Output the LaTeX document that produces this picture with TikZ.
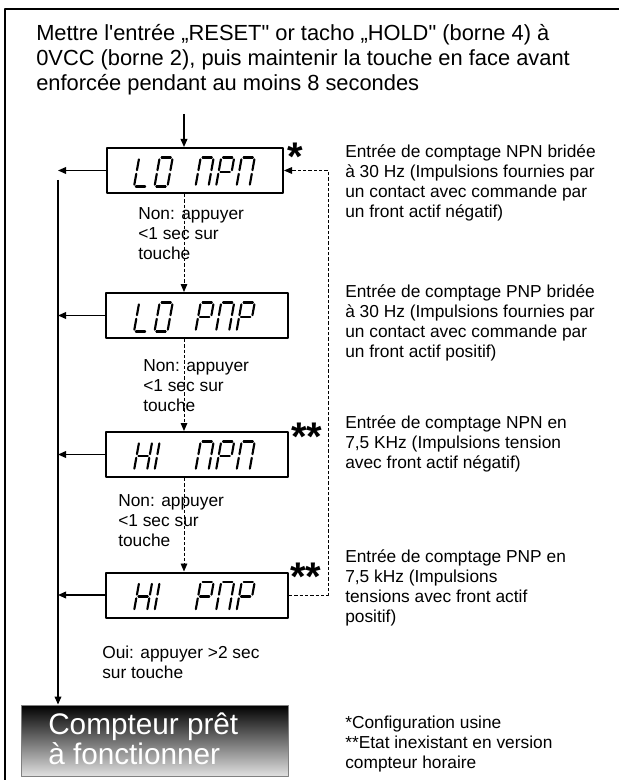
\documentclass[tikz,border=0pt]{standalone}
\usepackage{fontspec}
\setmainfont{Liberation Sans}
\usetikzlibrary{arrows.meta}

\begin{document}
\begin{tikzpicture}[x=0.75pt, y=-0.75pt, line join=round,
    lcdbox/.style={draw, line width=1.5pt, inner sep=0pt,
                   minimum width=136.5pt, minimum height=33.75pt},
    lcdseg/.style={line width=1.6pt, line cap=round,
                   shorten <=1.4pt, shorten >=1.4pt},
    flow/.style={line width=1.1pt, -{Triangle[length=6pt, width=5pt]}},
    back/.style={line width=0.7pt, dash pattern=on 2.5pt off 1.5pt,
                 -{Triangle[length=6pt, width=5pt]}},
    note/.style={anchor=north west, inner sep=0pt, align=left,
                 font=\fontsize{13}{15}\selectfont},
    star/.style={anchor=base, inner sep=0pt,
                 font=\fontsize{30}{30}\selectfont\bfseries}]
    \useasboundingbox (0,0) rectangle (619,780);

    % Segment lists of the display characters (corner to corner)
    \def\segL{tl/ml, ml/bl, bl/br}
    \def\segO{tl/tr, tr/mr, mr/br, bl/br, ml/bl, tl/ml}
    \def\segN{tl/tr, tr/mr, mr/br, ml/bl, tl/ml}
    \def\segP{tl/tr, tr/mr, ml/mr, ml/bl, tl/ml}
    \def\segH{tl/ml, ml/bl, tr/mr, mr/br, ml/mr}
    \def\segI{tl/ml, ml/bl}
    % One slanted 7-segment word: #1 = bottom of the digits, #2 = pos/char
    \def\lcdword#1#2{%
      \foreach \i/\c in {#2}{
        \expandafter\let\expandafter\seglist\csname seg\c\endcsname
        \begin{scope}[shift={(134+20.5*\i,#1)}, yscale=-1, xslant=-0.18]
          \coordinate (tl) at (0,29);  \coordinate (tr) at (13,29);
          \coordinate (ml) at (0,14.5);  \coordinate (mr) at (13,14.5);
          \coordinate (bl) at (0,0);   \coordinate (br) at (13,0);
          \foreach \p/\q in \seglist
            \draw[lcdseg] (\p) -- (\q);
        \end{scope}
      }
    }

    % Frame
    \draw[line width=1.2pt] (5,780) -- (5,9) -- (619,9);

    \node[anchor=north west, inner sep=0pt, align=left,
          font=\fontsize{16.4}{18.75}\selectfont] (intro) at (36,24)
      {Mettre l\textquotesingle entrée „RESET\textquotedbl{} or tacho
       „HOLD\textquotedbl{} (borne 4) à\\
       0VCC (borne 2), puis maintenir la touche en face avant\\
       enforcée pendant au moins 8 secondes};

    % Display boxes
    \node[lcdbox, minimum width=132pt] (lonpn) at (195,170.5) {};
    \node[lcdbox] (lopnp) at (197,315.5) {};
    \node[lcdbox] (hinpn) at (197,454.5) {};
    \node[lcdbox] (hipnp) at (197,595) {};
    \lcdword{186.5}{0/L,1/O,3/N,4/P,5/N}
    \lcdword{331.5}{0/L,1/O,3/P,4/N,5/P}
    \lcdword{470.5}{0/H,1/I,3/N,4/P,5/N}
    \lcdword{611}{0/H,1/I,3/P,4/N,5/P}

    \node[star] (star1) at (295,171) {*};
    \node[star] (star3) at (307,450) {**};
    \node[star] (star4) at (306,590.5) {**};

    % Final state
    \node[draw=gray, line width=0.7pt, inner sep=0pt, top color=black,
          bottom color=white!88!black, minimum width=200.25pt,
          minimum height=53.25pt] (ready) at (154.5,740.5) {};
    \node[anchor=north west, inner sep=0pt, align=left, white,
          font=\fontsize{22.3}{19.5}\selectfont] (readytext) at (48,713)
      {Compteur prêt\\à fonctionner};

    % Connectors
    \coordinate (feed) at (184,114);
    \coordinate (spine) at (184,0);
    \coordinate (bus) at (58,180);
    \coordinate (ret) at (328,0);
    \draw[flow] (feed) -- (feed |- lonpn.north);
    \draw[back] (lonpn.south -| spine) -- (lopnp.north -| spine);
    \draw[back] (lopnp.south -| spine) -- (hinpn.north -| spine);
    \draw[back] (hinpn.south -| spine) -- (hipnp.north -| spine);
    \draw[back] (hipnp.east) -- (hipnp.east -| ret) -- (lonpn.east -| ret)
      -- (lonpn.east);
    \foreach \b in {lonpn,lopnp,hinpn,hipnp}
      \draw[flow] (\b.west) -- (\b.west -| bus);
    \draw[flow] (bus) -- (bus |- ready.north);

    % Notes
    \node[note] (non1) at (138,207.6) {Non: appuyer\\<1 sec sur\\touche};
    \node[note] (non2) at (143,359.6) {Non: appuyer\\<1 sec sur\\touche};
    \node[note] (non3) at (118,494.6) {Non: appuyer\\<1 sec sur\\touche};
    \node[note] (oui) at (102,645.6) {Oui: appuyer >2 sec\\sur touche};

    \node[note] (desc1) at (345,144.6)
      {Entrée de comptage NPN bridée\\à 30 Hz (Impulsions fournies par\\
       un contact avec commande par\\un front actif négatif)};
    \node[note] (desc2) at (345,284.6)
      {Entrée de comptage PNP bridée\\à 30 Hz (Impulsions fournies par\\
       un contact avec commande par\\un front actif positif)};
    \node[note] (desc3) at (345,415.6)
      {Entrée de comptage NPN en\\7,5 KHz (Impulsions tension\\
       avec front actif négatif)};
    \node[note] (desc4) at (345,549.6)
      {Entrée de comptage PNP en\\7,5 kHz (Impulsions\\
       tensions avec front actif\\positif)};
    \node[note] (foot) at (345,715.6)
      {*Configuration usine\\**Etat inexistant en version\\compteur horaire};
  \end{tikzpicture}
\end{document}
